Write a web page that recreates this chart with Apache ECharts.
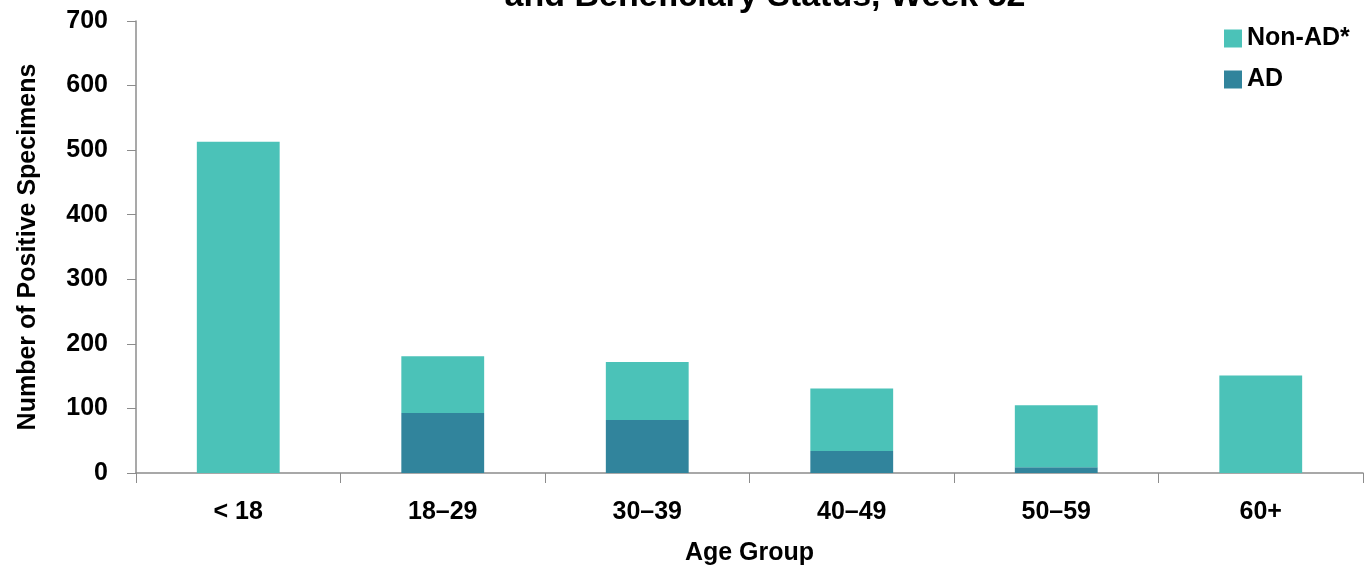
<!DOCTYPE html>
<html><head><meta charset="utf-8">
<script src="https://cdn.jsdelivr.net/npm/echarts@6/dist/echarts.min.js"></script>
<style>html,body{margin:0;padding:0;background:#fff}#c{width:1367px;height:571px}</style>
</head><body><div id="c"></div>
<script>
const categories = ['< 18', '18–29', '30–39', '40–49', '50–59', '60+'];
const adValues = [0, 93, 82, 34, 9, 0];
const nonAdValues = [513, 88, 90, 97, 96, 151];
const yTicks = [0, 100, 200, 300, 400, 500, 600, 700];
const titleText = 'and Beneficiary Status, Week 52';

const FONT = '"Liberation Sans Narrow", "Arial Narrow", "Liberation Sans", Arial, sans-serif';
const chart = echarts.init(document.getElementById('c'));
chart.setOption({
  animation: false,
  textStyle: { fontFamily: FONT },
  graphic: [{
    type: 'text', x: 765, y: -20,
    style: { text: titleText, font: 'bold 34px ' + FONT, fill: '#000', align: 'center', verticalAlign: 'top' }
  }],
  legend: {
    data: ['Non-AD*', 'AD'], orient: 'vertical', left: 1219, top: 21,
    itemWidth: 18, itemHeight: 18, itemGap: 16, icon: 'rect',
    textStyle: { fontSize: 25, fontWeight: 'bold', color: '#000', fontFamily: FONT }
  },
  grid: { left: 136, right: 4, top: 21, bottom: 96, containLabel: false },
  xAxis: {
    type: 'category', data: categories,
    name: 'Age Group', nameLocation: 'middle', nameGap: 68,
    nameTextStyle: { fontSize: 25, fontWeight: 'bold', color: '#000', fontFamily: FONT },
    axisLine: { lineStyle: { color: '#8c8c8c', width: 1.5 } },
    axisTick: { show: true, length: 10, lineStyle: { color: '#8c8c8c' }, alignWithLabel: false },
    axisLabel: { margin: 27, fontSize: 25, fontWeight: 'bold', color: '#000', fontFamily: FONT }
  },
  yAxis: {
    type: 'value', min: 0, max: yTicks[yTicks.length - 1], interval: 100,
    name: 'Number of Positive Specimens', nameLocation: 'middle', nameGap: 95,
    nameTextStyle: { fontSize: 25, fontWeight: 'bold', color: '#000', fontFamily: FONT },
    axisLine: { show: true, lineStyle: { color: '#8c8c8c', width: 1.5 } },
    axisTick: { show: true, length: 9, lineStyle: { color: '#8c8c8c' } },
    splitLine: { show: false },
    axisLabel: { margin: 28, fontSize: 25, fontWeight: 'bold', color: '#000', fontFamily: FONT }
  },
  series: [
    { name: 'AD', type: 'bar', stack: 't', data: adValues, barWidth: '40.5%',
      itemStyle: { color: '#31849c' } },
    { name: 'Non-AD*', type: 'bar', stack: 't', data: nonAdValues, barWidth: '40.5%',
      itemStyle: { color: '#4bc2b8' } }
  ]
});
</script></body></html>
